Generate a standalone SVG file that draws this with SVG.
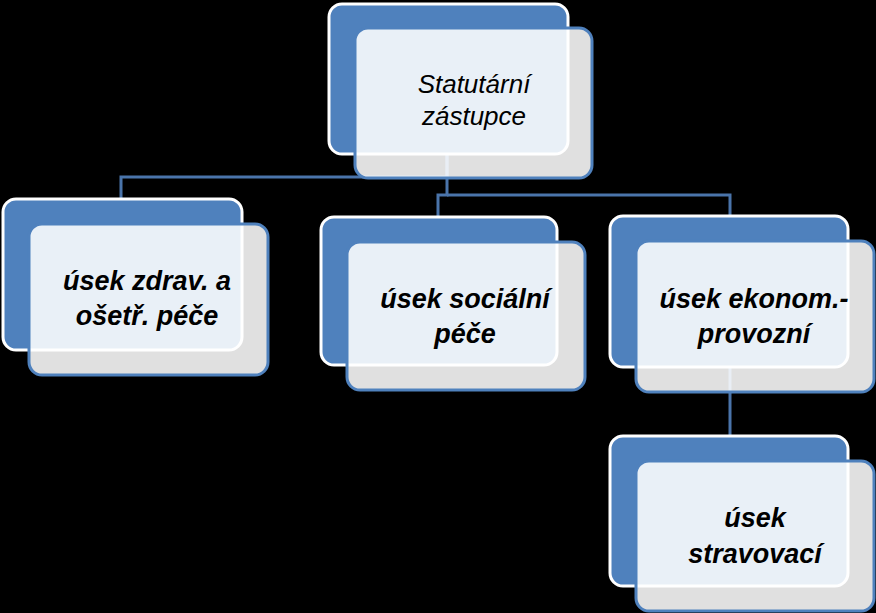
<svg xmlns="http://www.w3.org/2000/svg" width="876" height="613" viewBox="0 0 876 613">
<style>
.back{fill:#4F81BD;stroke:#FFFFFF;stroke-width:3}
.front{fill:#FFFFFF;fill-opacity:0.88;stroke:#4F81BD;stroke-width:3}
.conn{fill:none;stroke:#4A74AA;stroke-width:3;stroke-linejoin:miter}
.t{font-family:"Liberation Sans",Arial,sans-serif;font-style:italic;font-weight:bold;font-size:27px;fill:#000;text-anchor:middle}
.tt{font-family:"Liberation Sans",Arial,sans-serif;font-style:italic;font-size:26px;fill:#000;text-anchor:middle}
</style>
<rect x="0" y="0" width="876" height="613" fill="#000"/>
<g id="connectors">
<path class="conn" d="M447,153 V177 H121 V199"/>
<path class="conn" d="M447,153 V195 H438 V217"/>
<path class="conn" d="M447,195 H730 V216"/>
<path class="conn" d="M730,367 V436"/>
</g>
<g id="n0">
<rect class="back" x="329" y="4" width="239" height="150" rx="13"/>
<rect class="front" x="355" y="28" width="237" height="150" rx="13"/>
<text class="tt" x="474" y="93">Statutární</text>
<text class="tt" x="474" y="125">zástupce</text>
</g>
<g id="n1">
<rect class="back" x="3" y="199" width="239" height="151" rx="13"/>
<rect class="front" x="29" y="224" width="239" height="151" rx="13"/>
<text class="t" x="147" y="290">úsek zdrav. a</text>
<text class="t" x="147" y="325">ošetř. péče</text>
</g>
<g id="n2">
<rect class="back" x="321" y="217" width="236" height="148" rx="13"/>
<rect class="front" x="347" y="242" width="238" height="148" rx="13"/>
<text class="t" x="465" y="308">úsek sociální</text>
<text class="t" x="465" y="343">péče</text>
</g>
<g id="n3">
<rect class="back" x="610" y="216" width="238" height="151" rx="13"/>
<rect class="front" x="636" y="241" width="238" height="151" rx="13"/>
<text class="t" x="754" y="308">úsek ekonom.-</text>
<text class="t" x="754" y="343">provozní</text>
</g>
<g id="n4">
<rect class="back" x="610" y="436" width="238" height="150" rx="13"/>
<rect class="front" x="636" y="461" width="238" height="150" rx="13"/>
<text class="t" x="755" y="527">úsek</text>
<text class="t" x="755" y="563">stravovací</text>
</g>
</svg>
